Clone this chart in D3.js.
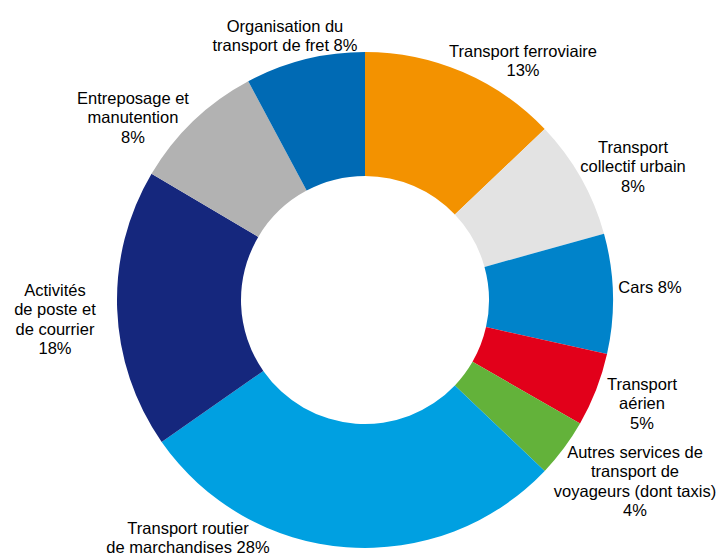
<!DOCTYPE html>
<html><head><meta charset="utf-8">
<script src="https://cdn.jsdelivr.net/npm/d3@7"></script>
<style>body{margin:0;background:#fff}svg{display:block}</style>
</head><body>
<svg id="chart" width="721" height="555"></svg>
<script>
// Data (clockwise from 12 o'clock)
const categories = ["Transport ferroviaire","Transport collectif urbain","Cars","Transport aérien","Autres services de transport de voyageurs (dont taxis)","Transport routier de marchandises","Activités de poste et de courrier","Entreposage et manutention","Organisation du transport de fret"];
const values = [12.9, 7.8, 7.8, 4.8, 3.8, 28.2, 18.2, 8.7, 7.8];
const labelLines = [
  ["Transport ferroviaire","13%"],
  ["Transport","collectif urbain","8%"],
  ["Cars 8%"],
  ["Transport","aérien","5%"],
  ["Autres services de","transport de","voyageurs (dont taxis)","4%"],
  ["Transport routier","de marchandises 28%"],
  ["Activités","de poste et","de courrier","18%"],
  ["Entreposage et","manutention","8%"],
  ["Organisation du","transport de fret 8%"]
];
const colors = ["#F39200","#E3E3E3","#0083CA","#E2001A","#63B23A","#00A0E1","#15277D","#B2B2B2","#006AB4"];
// Label layout (x centre, first baseline)
const labelPos = [[523,57],[633,153],[650,293],[642,390],[635,458],[188,534],[55,296],[133,104],[285,32]];

const svg = d3.select("#chart");
const cx = 365, cy = 300, rOuter = 248, rInner = 124;
const g = svg.append("g").attr("transform", `translate(${cx},${cy})`);
const pie = d3.pie().sort(null).value(d => d)(values);
const arc = d3.arc().innerRadius(rInner).outerRadius(rOuter);
g.selectAll("path").data(pie).join("path")
  .attr("d", arc).attr("fill", (d,i) => colors[i]);

const lh = 19.3;
const lab = svg.append("g").attr("font-family","'Liberation Sans', Arial, sans-serif")
  .attr("font-size", "16.5px").attr("fill","#000").attr("text-anchor","middle");
labelLines.forEach((lines, i) => {
  const t = lab.append("text").attr("x", labelPos[i][0]).attr("y", labelPos[i][1]);
  lines.forEach((l, j) => t.append("tspan").attr("x", labelPos[i][0]).attr("dy", j ? lh : 0).text(l));
});
</script>
</body></html>
